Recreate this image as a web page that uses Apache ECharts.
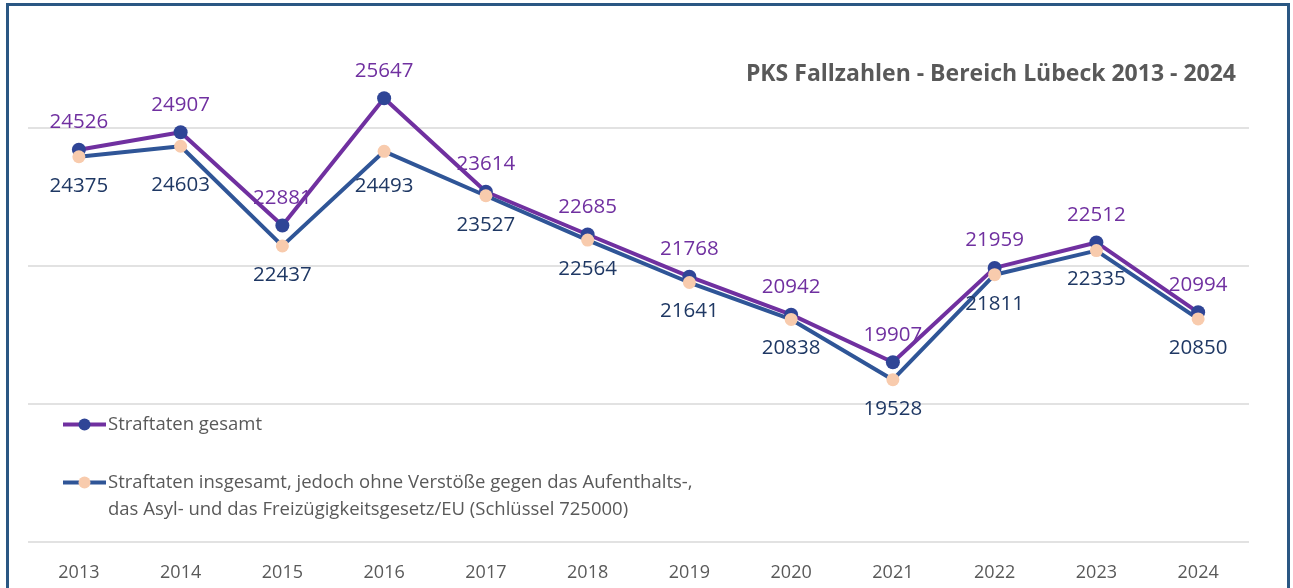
<!DOCTYPE html>
<html>
<head>
<meta charset="utf-8">
<script src="https://cdn.jsdelivr.net/npm/echarts@6/dist/echarts.min.js"></script>
<style>
  html, body { margin: 0; padding: 0; background: #fff; }
  #chart { width: 1293px; height: 588px; }
</style>
</head>
<body>
<div id="chart"></div>
<script>
// Jahre (x-Achse)
var years = ['2013', '2014', '2015', '2016', '2017', '2018', '2019', '2020', '2021', '2022', '2023', '2024']
// Straftaten gesamt
var gesamt = [24526, 24907, 22881, 25647, 23614, 22685, 21768, 20942, 19907, 21959, 22512, 20994]
// ohne Verstöße AufenthG / AsylG / FreizügG/EU
var ohneAusl = [24375, 24603, 22437, 24493, 23527, 22564, 21641, 20838, 19528, 21811, 22335, 20850]

var nameGesamt = 'Straftaten gesamt'
var nameOhne = 'Straftaten insgesamt, jedoch ohne Verstöße gegen das Aufenthalts-,\ndas Asyl- und das Freizügigkeitsgesetz/EU (Schlüssel 725000)'

var font = 'Open Sans'

// einzelne Beschriftungen etwas tiefer setzen (wie im Original)
var labelShift = { 1: 10, 3: 6 }

var myChart = echarts.init(document.getElementById('chart'))
var options = {
  backgroundColor: '#ffffff',
  animation: false,
  title: {
    text: 'PKS Fallzahlen - Bereich Lübeck 2013 - 2024',
    right: 52,
    top: 58,
    textStyle: { fontFamily: font, fontSize: 23, fontWeight: 'bold', color: '#595959' }
  },
  graphic: [{
    type: 'rect',
    z: 100,
    shape: { x: 7.5, y: 4.5, width: 1281, height: 620 },
    style: { fill: 'none', stroke: '#2A5783', lineWidth: 3 }
  }],
  legend: {
    orient: 'vertical',
    left: 61,
    top: 411,
    padding: 0,
    itemGap: 4,
    itemWidth: 43,
    itemHeight: 15,
    lineStyle: { width: 4 },
    data: [nameGesamt, nameOhne],
    formatter: function(name) {
      // Leerzeile davor, damit das Symbol auf Höhe der ersten Zeile sitzt
      return name === nameOhne ? ' \n' + name : name
    },
    textStyle: { fontFamily: font, fontSize: 18.5, color: '#595959', lineHeight: 27, padding: [0, 0, 0, -3] }
  },
  grid: {
    left: 28,
    right: 44,
    top: 59,
    bottom: 46
  },
  xAxis: {
    type: 'category',
    data: years,
    boundaryGap: true,
    axisLine: { show: false },
    axisTick: { show: false },
    axisLabel: { margin: 22, fontFamily: font, fontSize: 18, color: '#595959' }
  },
  yAxis: {
    type: 'value',
    min: 16000,
    max: 26500,
    interval: 3000,
    axisLine: { show: false },
    axisTick: { show: false },
    axisLabel: { show: false },
    splitLine: {
      show: true,
      showMaxLine: false,
      lineStyle: { color: '#d9d9d9', width: 1.5 }
    }
  },
  series: [
    {
      name: nameGesamt,
      type: 'line',
      data: gesamt,
      symbol: 'circle',
      symbolSize: 14,
      clip: false,
      lineStyle: { color: '#7030A0', width: 4 },
      itemStyle: { color: '#2F4596' },
      label: {
        show: true,
        position: 'top',
        distance: 10,
        fontFamily: font,
        fontSize: 20.5,
        color: '#7030A0'
      }
    },
    {
      name: nameOhne,
      type: 'line',
      data: ohneAusl.map(function(v, i) {
        return labelShift[i] ? { value: v, label: { offset: [0, labelShift[i]] } } : v
      }),
      symbol: 'circle',
      symbolSize: 13,
      clip: false,
      lineStyle: { color: '#2F5597', width: 4 },
      itemStyle: { color: '#F8CBAD' },
      label: {
        show: true,
        position: 'bottom',
        distance: 12,
        fontFamily: font,
        fontSize: 20.5,
        color: '#1F3864'
      }
    }
  ]
}
myChart.setOption(options)
</script>
</body>
</html>
